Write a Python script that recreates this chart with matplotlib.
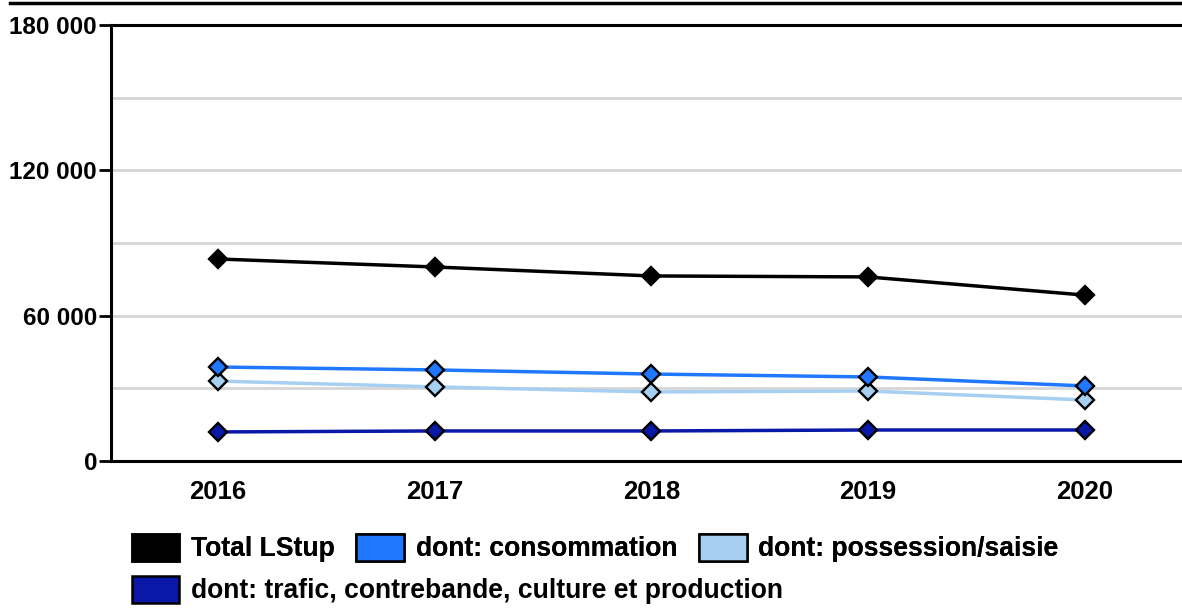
import matplotlib.pyplot as plt
from matplotlib.patches import Patch
from matplotlib.lines import Line2D
from matplotlib.ticker import FuncFormatter

plt.rcParams['font.family'] = ['Liberation Sans', 'DejaVu Sans']

years = ["2016", "2017", "2018", "2019", "2020"]
total = [83400, 80100, 76400, 76000, 68500]
consommation = [38800, 37600, 35900, 34700, 31000]
possession = [33000, 30600, 28500, 28900, 25200]
trafic = [12000, 12400, 12400, 12800, 12800]

names = ["Total LStup", "dont: consommation", "dont: possession/saisie",
         "dont: trafic, contrebande, culture et production"]
colors = ["#000000", "#1f78ff", "#a6cff2", "#0a18a8"]
series = [total, consommation, possession, trafic]

fig = plt.figure(figsize=(11.82, 6.10), dpi=100)
ax = fig.add_axes([111 / 1182, 149 / 610, 1 - 111 / 1182, 436 / 610])

x = range(len(years))
# draw back to front so the total line sits on top
for vals, col in zip(series[::-1], colors[::-1]):
    ax.plot(x, vals, color=col, lw=2.5, marker="D", markersize=9.5,
            markerfacecolor=col, markeredgecolor="black", markeredgewidth=1.7,
            zorder=3)

ax.set_xlim(-0.494, 4.45)
ax.set_ylim(0, 180000)
ax.set_yticks([0, 60000, 120000, 180000])
ax.set_yticks([30000, 90000, 150000], minor=True)
ax.yaxis.set_major_formatter(FuncFormatter(lambda v, p: f"{int(v):,}".replace(",", " ")))
ax.grid(axis="y", which="both", color="#d6d6d6", lw=2, zorder=0)
ax.set_xticks(list(x))
ax.set_xticklabels(years)

ax.tick_params(axis="y", which="major", length=9, width=2, pad=1, labelsize=17.5)
ax.tick_params(axis="y", which="minor", length=0)
ax.tick_params(axis="x", length=0, pad=14, labelsize=18.5)
for lab in ax.get_xticklabels() + ax.get_yticklabels():
    lab.set_fontweight("bold")

for side in ["left", "bottom", "top"]:
    ax.spines[side].set_linewidth(2.2)
    ax.spines[side].set_color("black")
ax.spines["right"].set_visible(False)

# border line at the very top
fig.add_artist(Line2D([10 / 1182, 1], [607 / 610, 607 / 610], color="black", lw=2.5))

handles = [Patch(facecolor=c, edgecolor="black", linewidth=1.8) for c in colors]
leg1 = fig.legend(handles[:3], names[:3], loc="center left", bbox_to_anchor=(121 / 1182, 62 / 610),
                  ncol=3, frameon=False, handlelength=1.8, handleheight=1.2,
                  handletextpad=0.45, columnspacing=0.8, borderaxespad=0,
                  prop={"weight": "bold", "size": 19.1})
fig.add_artist(leg1)
fig.legend(handles[3:], names[3:], loc="center left", bbox_to_anchor=(121 / 1182, 20 / 610),
           frameon=False, handlelength=1.8, handleheight=1.2, handletextpad=0.45,
           borderaxespad=0, prop={"weight": "bold", "size": 19.1})

fig.savefig("out.png", dpi=100)
